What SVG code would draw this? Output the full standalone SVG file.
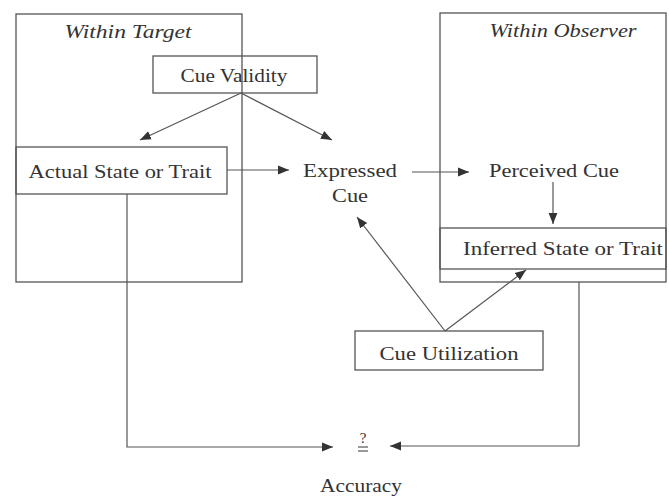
<svg xmlns="http://www.w3.org/2000/svg" width="669" height="497" viewBox="0 0 669 497">
<style>
.box{fill:none;stroke:#555;stroke-width:1.3}
.ln{fill:none;stroke:#555;stroke-width:1.2}
.t{font-family:"Liberation Serif",serif;font-size:19px;fill:#333;text-anchor:middle}
.i{font-style:italic}
</style>
<defs>
<marker id="ah" viewBox="0 0 10 10" refX="10" refY="5" markerWidth="11" markerHeight="11" markerUnits="userSpaceOnUse" orient="auto">
<path d="M0,1 L10,5 L0,9 Z" fill="#333"/>
</marker>
</defs>
<rect width="669" height="497" fill="#fff"/>
<g id="target">
<rect class="box" x="16" y="14" width="226" height="268"/>
<text class="t i" x="128" y="38" textLength="127" lengthAdjust="spacingAndGlyphs">Within Target</text>
</g>
<g id="observer">
<rect class="box" x="440" y="13" width="226" height="269"/>
<text class="t i" x="563" y="37" textLength="147" lengthAdjust="spacingAndGlyphs">Within Observer</text>
</g>
<g id="cue-validity">
<rect class="box" x="153" y="56" width="164" height="37" fill="#fff"/>
<text class="t" x="234" y="82" textLength="107" lengthAdjust="spacingAndGlyphs">Cue Validity</text>
</g>
<g id="actual">
<rect class="box" x="16" y="147" width="211" height="47" fill="#fff"/>
<text class="t" x="120" y="178" textLength="183" lengthAdjust="spacingAndGlyphs">Actual State or Trait</text>
</g>
<g id="expressed">
<text class="t" x="350" y="177" textLength="94" lengthAdjust="spacingAndGlyphs">Expressed</text>
<text class="t" x="350" y="202" textLength="36" lengthAdjust="spacingAndGlyphs">Cue</text>
</g>
<g id="perceived">
<text class="t" x="554" y="177" textLength="130" lengthAdjust="spacingAndGlyphs">Perceived Cue</text>
</g>
<g id="inferred">
<rect class="box" x="440" y="228" width="226" height="41" fill="#fff"/>
<text class="t" x="563" y="255" textLength="200" lengthAdjust="spacingAndGlyphs">Inferred State or Trait</text>
</g>
<g id="cue-utilization">
<rect class="box" x="355" y="331" width="188" height="39" fill="#fff"/>
<text class="t" x="449" y="360" textLength="139" lengthAdjust="spacingAndGlyphs">Cue Utilization</text>
</g>
<g id="accuracy">
<text class="t" x="363" y="443" style="font-size:15px">?</text>
<line class="ln" x1="358" y1="447" x2="368" y2="447"/>
<line class="ln" x1="358" y1="451" x2="368" y2="451"/>
<text class="t" x="361" y="492" textLength="82" lengthAdjust="spacingAndGlyphs">Accuracy</text>
</g>
<g id="connectors">
<line class="ln" x1="241" y1="93" x2="140" y2="140" marker-end="url(#ah)"/>
<line class="ln" x1="241" y1="93" x2="332" y2="140" marker-end="url(#ah)"/>
<line class="ln" x1="227" y1="170" x2="289" y2="170" marker-end="url(#ah)"/>
<line class="ln" x1="412" y1="172" x2="469" y2="172" marker-end="url(#ah)"/>
<line class="ln" x1="553" y1="182" x2="553" y2="224" marker-end="url(#ah)"/>
<line class="ln" x1="445" y1="331" x2="357" y2="217" marker-end="url(#ah)"/>
<line class="ln" x1="445" y1="331" x2="526" y2="270" marker-end="url(#ah)"/>
<polyline class="ln" points="127,194 127,447 333,447" marker-end="url(#ah)"/>
<polyline class="ln" points="579,282 579,446 390,446" marker-end="url(#ah)"/>
</g>
</svg>
